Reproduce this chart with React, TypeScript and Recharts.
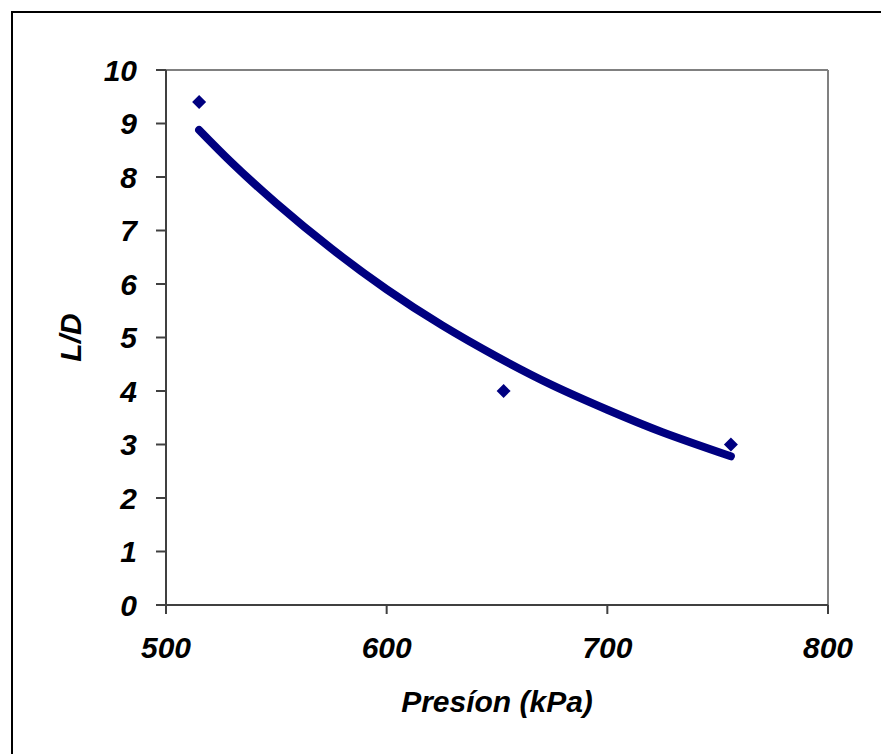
import React from 'react';
import {
  ComposedChart,
  XAxis,
  YAxis,
  Line,
  Scatter,
  ReferenceLine,
  Label
} from 'recharts';

// measured points (Presión kPa vs L/D)
const pressures = [515, 653, 756];
const ldValues = [9.4, 4.0, 3.0];

// trend curve
const trendPressures = [515, 530, 550, 575, 600, 625, 650, 675, 700, 725, 756];
const trendValues = [8.88, 8.26, 7.51, 6.66, 5.90, 5.23, 4.64, 4.11, 3.65, 3.23, 2.78];

const xTicks = [500, 600, 700, 800];
const yTicks = [0, 1, 2, 3, 4, 5, 6, 7, 8, 9, 10];

const points = pressures.map((x, i) => ({ x, y: ldValues[i] }));
const trend = trendPressures.map((x, i) => ({ x, y: trendValues[i] }));

const NAVY = '#000080';
const FONT = '"Liberation Sans", Arial, sans-serif';
const tickStyle = { fontSize: 30, fontWeight: 'bold', fontStyle: 'italic', fill: '#000', fontFamily: FONT };

const Diamond = (props: any) => {
  const { cx, cy } = props;
  const r = 7;
  return <polygon points={`${cx},${cy - r} ${cx + r},${cy} ${cx},${cy + r} ${cx - r},${cy}`} fill={NAVY} />;
};

const YTitle = (props: any) => {
  const { viewBox } = props;
  const cx = viewBox.x + 70;
  const cy = viewBox.y + viewBox.height / 2;
  return (
    <text x={cx} y={cy} transform={`rotate(-90 ${cx} ${cy})`} textAnchor="middle" dy="0.35em" style={tickStyle}>
      L/D
    </text>
  );
};

const XTitle = (props: any) => {
  const { viewBox } = props;
  const cx = viewBox.x + viewBox.width / 2;
  return (
    <text x={cx} y={viewBox.y + 107} textAnchor="middle" style={tickStyle}>
      Presíon (kPa)
    </text>
  );
};

export default function App() {
  return (
    <div style={{ position: 'absolute', left: 0, top: 0, width: 881, height: 754, overflow: 'hidden', background: '#fff' }}>
      <div style={{ position: 'absolute', left: 11, top: 11, width: 870, height: 743, borderTop: '2px solid #000', borderLeft: '2px solid #000' }} />
      <div style={{ position: 'absolute', left: 0, top: 0 }}>
        <ComposedChart width={881} height={754} margin={{ top: 70, right: 53, bottom: 89, left: 0 }}>
          <XAxis
            type="number"
            dataKey="x"
            domain={[500, 800]}
            ticks={xTicks}
            allowDataOverflow
            stroke="#404040"
            strokeWidth={2}
            tickSize={9}
            tickMargin={23}
            tick={tickStyle}
            height={60}
          >
            <Label content={<XTitle />} />
          </XAxis>
          <YAxis
            type="number"
            dataKey="y"
            domain={[0, 10]}
            ticks={yTicks}
            stroke="#404040"
            strokeWidth={2}
            tickSize={10}
            tickMargin={19}
            tick={tickStyle}
            width={166}
          >
            <Label content={<YTitle />} />
          </YAxis>
          <ReferenceLine y={10} stroke="#808080" strokeWidth={2} />
          <ReferenceLine x={800} stroke="#808080" strokeWidth={2} />
          <Line
            data={trend}
            dataKey="y"
            type="natural"
            stroke={NAVY}
            strokeWidth={8}
            strokeLinecap="round"
            dot={false}
            activeDot={false}
            isAnimationActive={false}
          />
          <Scatter data={points} dataKey="y" fill={NAVY} shape={<Diamond />} isAnimationActive={false} />
        </ComposedChart>
      </div>
    </div>
  );
}
